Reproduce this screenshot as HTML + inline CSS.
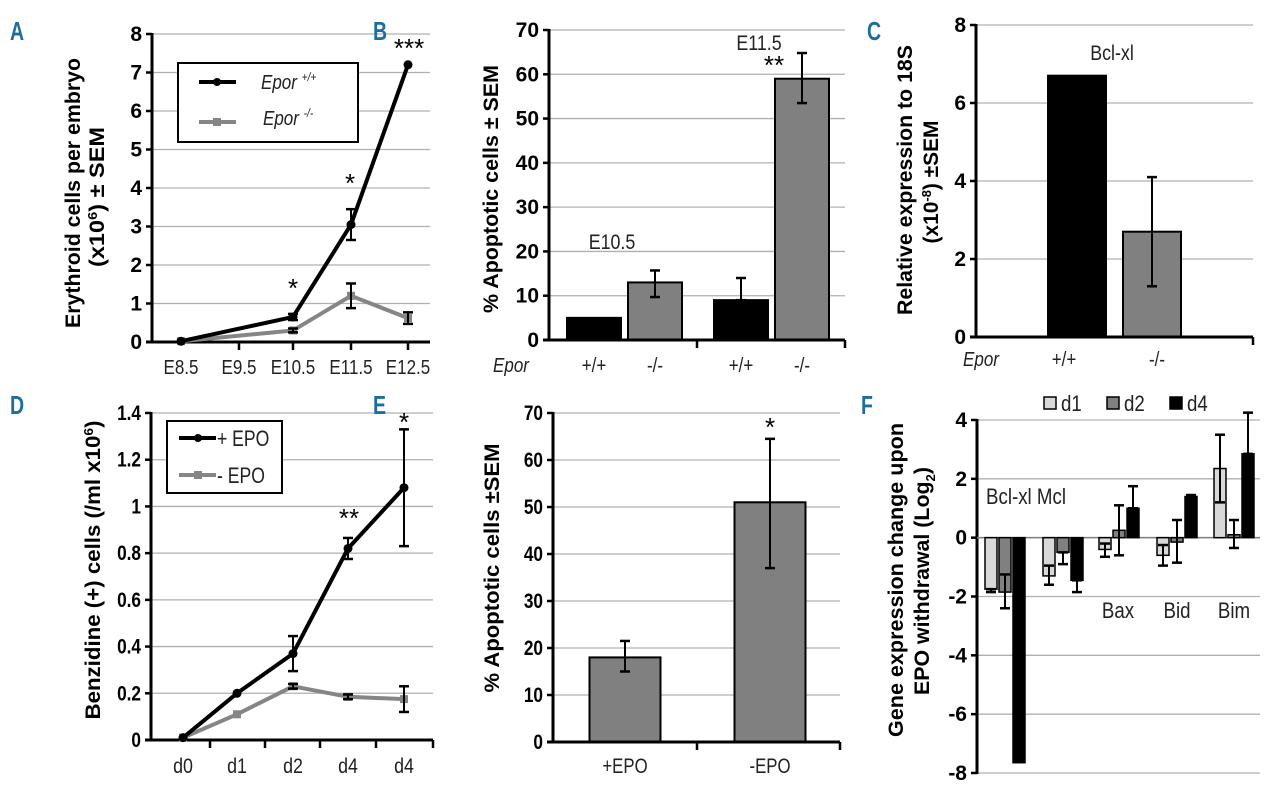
<!DOCTYPE html>
<html><head><meta charset="utf-8"><style>
html,body{margin:0;padding:0;background:#fff;}
svg{display:block;font-family:"Liberation Sans",sans-serif;}
.tk{font-weight:bold;font-size:21px;}
.tkn{font-weight:bold;font-size:21px;}
.yt{font-weight:bold;font-size:21px;}
.lab{font-size:20px;fill:#222;}
.pl{font-weight:bold;font-size:26px;fill:#1d6e9c;}
.st{font-size:26px;}
</style></head><body>
<svg id="fig" width="1280" height="791" viewBox="0 0 1280 791" xmlns="http://www.w3.org/2000/svg"></svg>
<script>
// ---- data ----
const aCats=["E8.5","E9.5","E10.5","E11.5","E12.5"];
const aWT=[0.02,null,0.65,3.05,7.2];
const aWTerr=[0,0,0.08,0.4,0];
const aKO=[0.02,null,0.3,1.2,0.62];
const aKOerr=[0,0,0.05,0.32,0.15];
const bCats=["+/+","-/-","+/+","-/-"];
const bVals=[5,13,9,59];
const bErrHi=[5,15.7,14,64.8];
const bErrLo=[5,9.7,9,53.5];
const cCats=["+/+","-/-"];
const cVals=[6.7,2.7];
const cErrHi=[6.7,4.1];
const cErrLo=[6.7,1.3];
const dCats=["d0","d1","d2","d4","d4"];
const dPlus=[0.01,0.2,0.37,0.82,1.08];
const dPlusErr=[0,0,0.075,0.045,0.25];
const dMinus=[0.01,0.11,0.23,0.185,0.175];
const dMinusErr=[0,0,0.01,0.01,0.055];
const eCats=["+EPO","-EPO"];
const eVals=[18,51];
const eErrHi=[21.5,64.5];
const eErrLo=[15,37];
const fGenes=["Bcl-xl","Mcl","Bax","Bid","Bim"];
const fD1=[-1.75,-1.3,-0.4,-0.6,2.35];
const fD2=[-1.85,-0.5,0.25,-0.15,0.1];
const fD4=[-7.65,-1.45,1.0,1.4,2.85];
const fD1ErrA=[-1.85,-0.95,-0.2,-0.25,3.5];
const fD1ErrB=[-1.75,-1.6,-0.65,-0.95,1.2];
const fD2ErrA=[-1.25,-0.5,1.1,0.6,0.6];
const fD2ErrB=[-2.4,-0.9,-0.6,-0.85,-0.35];
const fD4ErrA=[-7.65,-1.45,1.75,1.45,4.25];
const fD4ErrB=[-7.65,-1.85,1.0,1.4,2.85];

const svg=document.getElementById('fig');
const NS="http://www.w3.org/2000/svg";
function mk(tag,attrs,parent){const e=document.createElementNS(NS,tag);for(const k in attrs)e.setAttribute(k,attrs[k]);(parent||svg).appendChild(e);return e;}
function txt(s,x,y,cls,anchor,parent,sx){
  const t=mk('text',{x:0,y:0,class:cls,'text-anchor':anchor||'middle',transform:`translate(${x},${y}) scale(${sx||1},1)`},parent);
  t.textContent=s;return t;}
function scale(d0,d1,r0,r1){return v=>r0+(v-d0)*(r1-r0)/(d1-d0);}
function axes(g,x0,x1,y,ticks,cls,fmt,sx){
  ticks.forEach(v=>{const yy=y(v);
    const gl=mk('line',{x1:x0,x2:x1,y1:yy,y2:yy,stroke:'#b0b0b0','stroke-width':1.3},g);
    
    
    mk('line',{x1:x0-6,x2:x0,y1:yy,y2:yy,stroke:'#000','stroke-width':2.5},g);
    const t=txt(fmt(v),x0-10,yy+7,cls,'end',g,sx);
    
    
  });
  const ya=mk('line',{x1:x0,x2:x0,y1:y(ticks[ticks.length-1])-1,y2:y(ticks[0])+1,stroke:'#000','stroke-width':3},g);
  
  
}
function xaxis(g,x0,x1,yy,tx){
  const xa=mk('line',{x1:x0-6,x2:x1,y1:yy,y2:yy,stroke:'#000','stroke-width':3},g);
  
  
  (tx||[]).forEach(x=>mk('line',{x1:x,x2:x,y1:yy,y2:yy+8,stroke:'#000','stroke-width':2.5},g));
}
function err(g,x,yh,yl,w){
  mk('line',{x1:x,x2:x,y1:yh,y2:yl,stroke:'#000','stroke-width':2},g);
  mk('line',{x1:x-w,x2:x+w,y1:yh,y2:yh,stroke:'#000','stroke-width':2.5},g);
  mk('line',{x1:x-w,x2:x+w,y1:yl,y2:yl,stroke:'#000','stroke-width':2.5},g);
}
// lines: [html, baselineX, centerY, length]
function ytitle(g,lines){
  lines.forEach(l=>{const t=mk('text',{x:0,y:0,class:'yt','text-anchor':'middle',textLength:l[3],lengthAdjust:'spacingAndGlyphs',transform:`translate(${l[1]},${l[2]}) rotate(-90)`},g);t.innerHTML=l[0];
    
    });
}
function plabel(s,x,y){const t=txt(s,x,y,'pl','start',svg,0.75);
  
  }
function star(g,s,x,y){const t=txt(s,x,y,'st','middle',g);
  
  }

// ---- Panel A ----
(function(){
const g=mk('g',{});


plabel('A',10,40);
const y=scale(0,8,342,34);
const xs=[181,239,293,351,408];
axes(g,152,430,y,[0,1,2,3,4,5,6,7,8],'tk',v=>v);
xaxis(g,152,430,342,[239,293,351,408]);
aCats.forEach((c,i)=>{const t=txt(c,xs[i],374,'lab','middle',g,0.85);
  
  });
ytitle(g,[['Erythroid cells per embryo',80,193,270],['(x10<tspan dy="-7" font-size="13">6</tspan><tspan dy="7">)  ± SEM</tspan>',104,197,140]]);
function series(vals,errs,col,name,sq){
  const pts=[];vals.forEach((v,i)=>{if(v!==null)pts.push([xs[i],y(v)]);});
  const p=mk('polyline',{points:pts.map(p=>p.join(',')).join(' '),fill:'none',stroke:col,'stroke-width':4,'stroke-linejoin':'round'},g);
  
  
  vals.forEach((v,i)=>{if(v===null)return;
    if(sq)mk('rect',{x:xs[i]-4,y:y(v)-4,width:8,height:8,fill:col},g);else mk('circle',{cx:xs[i],cy:y(v),r:4.5,fill:col},g);
    if(errs[i]>0)err(g,xs[i],y(v+errs[i]),y(v-errs[i]),5);});
}
series(aKO,aKOerr,'#858585','line-epor-ko',true);
series(aWT,aWTerr,'#000','line-epor-wt',false);
star(g,'*',293,297);star(g,'*',350,192);star(g,'***',409,57);
const lg=mk('g',{},g);


mk('rect',{x:178,y:63,width:180,height:79,fill:'#fff',stroke:'#000','stroke-width':2},lg);
mk('line',{x1:199,x2:236,y1:82,y2:82,stroke:'#000','stroke-width':4},lg);
mk('circle',{cx:217,cy:82,r:4,fill:'#000'},lg);
mk('line',{x1:199,x2:236,y1:122,y2:122,stroke:'#858585','stroke-width':4},lg);
mk('rect',{x:213,y:118,width:8,height:8,fill:'#858585'},lg);
const l1=mk('text',{x:0,y:0,class:'lab','font-style':'italic',transform:'translate(261,89) scale(0.85,1)'},lg);l1.innerHTML='Epor <tspan dy="-8" font-size="12">+/+</tspan>';


const l2=mk('text',{x:0,y:0,class:'lab','font-style':'italic',transform:'translate(263,125) scale(0.85,1)'},lg);l2.innerHTML='Epor <tspan dy="-8" font-size="12">-/-</tspan>';


})();

// ---- Panel B ----
(function(){
const g=mk('g',{});


plabel('B',373,40);
const y=scale(0,70,340,30);
axes(g,549,845,y,[0,10,20,30,40,50,60,70],'tk',v=>v);
const xs=[594,655,741,802], w=54, cols=['#000','#808080','#000','#808080'];
bVals.forEach((v,i)=>{const r=mk('rect',{x:xs[i]-w/2,y:y(v),width:w,height:340-y(v),fill:cols[i],stroke:'#000','stroke-width':2},g);
  
  
  if(bErrHi[i]!==bErrLo[i]||bErrHi[i]>v)err(g,xs[i],y(bErrHi[i]),y(bErrLo[i]),5);
  const t=txt(bCats[i],xs[i],372,'lab','middle',g,0.85);
  
  });
xaxis(g,549,845,340,[697,845]);
const ep=txt('Epor',511,372,'lab','middle',g,0.85);ep.setAttribute('font-style','italic');


ytitle(g,[['% Apoptotic cells ± SEM',498,189,248]]);
const t1=txt('E10.5',612,249,'lab','middle',g,0.85);t1.style.fontSize='21px';


const t2=txt('E11.5',759,50,'lab','middle',g,0.85);t2.style.fontSize='21px';


star(g,'**',774,74);
})();

// ---- Panel C ----
(function(){
const g=mk('g',{});


plabel('C',867,40);
const y=scale(0,8,337,25);
axes(g,976,1253,y,[0,2,4,6,8],'tk',v=>v);
const xs=[1077,1152], w=58, cols=['#000','#808080'];
cVals.forEach((v,i)=>{const r=mk('rect',{x:xs[i]-w/2,y:y(v),width:w,height:337-y(v),fill:cols[i],stroke:'#000','stroke-width':2},g);
  
  
  if(cErrHi[i]!==cErrLo[i])err(g,xs[i],y(cErrHi[i]),y(cErrLo[i]),5);
  const t=txt(cCats[i],[1064,1157][i],366,'lab','middle',g,0.85);
  
  });
xaxis(g,976,1253,337,[1253]);
const ep=txt('Epor',981,366,'lab','middle',g,0.85);ep.setAttribute('font-style','italic');


ytitle(g,[['Relative expression to 18S',912,180,270],['(x10<tspan dy="-7" font-size="13">-8</tspan><tspan dy="7">) ±SEM</tspan>',938,182,123]]);
const t=txt('Bcl-xl',1112,60,'lab','middle',g,0.85);t.style.fontSize='21px';


})();

// ---- Panel D ----
(function(){
const g=mk('g',{});


plabel('D',10,414);
const y=scale(0,1.4,740,413);
const xs=[183,237,293,348,404];
axes(g,151,433,y,[0,0.2,0.4,0.6,0.8,1,1.2,1.4],'tkn',v=>v,0.82);
xaxis(g,151,433,740,[210,265,320,376,433]);
dCats.forEach((c,i)=>{const t=txt(c,xs[i],773,'lab','middle',g,0.85);t.style.fontSize='21px';
  
  });
ytitle(g,[['Benzidine (+) cells (/ml x10<tspan dy="-7" font-size="13">6</tspan><tspan dy="7">)</tspan>',100,570,299]]);
function series(vals,errs,col,name,sq){
  const p=mk('polyline',{points:vals.map((v,i)=>xs[i]+','+y(v)).join(' '),fill:'none',stroke:col,'stroke-width':4,'stroke-linejoin':'round'},g);
  
  
  vals.forEach((v,i)=>{
    if(sq)mk('rect',{x:xs[i]-4,y:y(v)-4,width:8,height:8,fill:col},g);else mk('circle',{cx:xs[i],cy:y(v),r:4.5,fill:col},g);
    if(errs[i]>0)err(g,xs[i],y(v+errs[i]),y(v-errs[i]),5);});
}
series(dMinus,dMinusErr,'#858585','line-minus-epo',true);
series(dPlus,dPlusErr,'#000','line-plus-epo',false);
star(g,'**',349,527);star(g,'*',404,431);
const lg=mk('g',{},g);


mk('rect',{x:167,y:421,width:115,height:72,fill:'#fff',stroke:'#000','stroke-width':2},lg);
mk('line',{x1:179,x2:216,y1:438,y2:438,stroke:'#000','stroke-width':4},lg);
mk('circle',{cx:198,cy:438,r:4,fill:'#000'},lg);
mk('line',{x1:179,x2:216,y1:475,y2:475,stroke:'#858585','stroke-width':4},lg);
mk('rect',{x:194,y:471,width:8,height:8,fill:'#858585'},lg);
const a=txt('+ EPO',217,446,'lab','start',lg,0.8);a.style.fontSize='22px';


const b=txt('- EPO',217,483,'lab','start',lg,0.8);b.style.fontSize='22px';


})();

// ---- Panel E ----
(function(){
const g=mk('g',{});


plabel('E',373,414);
const y=scale(0,70,742,413);
axes(g,553,840,y,[0,10,20,30,40,50,60,70],'tkn',v=>v,0.82);
const xs=[625,770], w=71;
eVals.forEach((v,i)=>{const r=mk('rect',{x:xs[i]-w/2,y:y(v),width:w,height:742-y(v),fill:'#808080',stroke:'#000','stroke-width':2},g);
  
  
  err(g,xs[i],y(eErrHi[i]),y(eErrLo[i]),5);
  const t=txt(eCats[i],xs[i],773,'lab','middle',g,0.8);t.style.fontSize='21px';
  
  });
xaxis(g,553,840,742,[697,840]);
ytitle(g,[['% Apoptotic cells ±SEM',499,568,249]]);
star(g,'*',770,436);
})();

// ---- Panel F ----
(function(){
const g=mk('g',{});


plabel('F',861,414);
const y=scale(-8,4,773,420);
axes(g,977,1260,y,[-8,-6,-4,-2,0,2,4],'tk',v=>v);
const y0=y(0);
mk('line',{x1:977,x2:1260,y1:y0,y2:y0,stroke:'#808080','stroke-width':1.5},g);
const centers=[1005,1063,1119,1177,1234], w=12, off=[-14,0,14];
const sets=[[fD1,fD1ErrA,fD1ErrB,'#d8d8d8','d1'],[fD2,fD2ErrA,fD2ErrB,'#808080','d2'],[fD4,fD4ErrA,fD4ErrB,'#000','d4']];
sets.forEach((s,k)=>{
  s[0].forEach((v,i)=>{const x=centers[i]+off[k];
    const r=mk('rect',{x:x-w/2,y:Math.min(y(v),y0),width:w,height:Math.abs(y(v)-y0),fill:s[3],stroke:'#000','stroke-width':1.5},g);
    
    
    if(s[1][i]!==s[2][i])err(g,x,y(s[1][i]),y(s[2][i]),5);
  });
});
ytitle(g,[['Gene expression change upon',903,580,314],['EPO withdrawal (Log<tspan dy="6" font-size="13">2</tspan><tspan dy="-6">)</tspan>',929,581,228]]);
[['Bcl-xl Mcl',1026,504],['Bax',1118,618],['Bid',1177,618],['Bim',1234,618]].forEach(s=>{const t=txt(s[0],s[1],s[2],'lab','middle',g,0.85);t.style.fontSize='22px';
  
  });
const lg=mk('g',{},g);


[['#d8d8d8','d1',1044],['#808080','d2',1107],['#000','d4',1170]].forEach(l=>{
  mk('rect',{x:l[2],y:397,width:12,height:12,fill:l[0],stroke:'#000','stroke-width':1.5},lg);
  const t=txt(l[1],l[2]+17,411,'lab','start',lg,0.85);t.style.fontSize='22px';
  
  
});
})();
</script>
</body></html>
